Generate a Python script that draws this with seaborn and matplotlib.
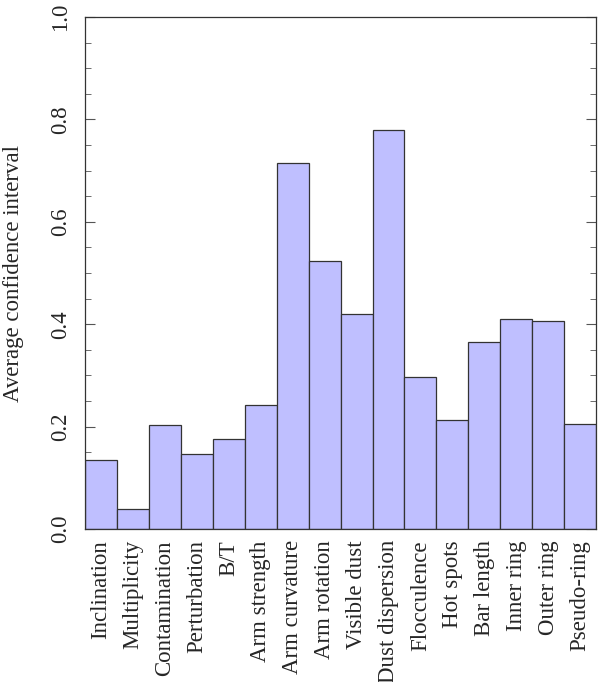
import pandas as pd
import matplotlib
matplotlib.use("Agg")
import matplotlib.pyplot as plt
import seaborn as sns
from matplotlib.ticker import MultipleLocator

# Valores
categories = ["Inclination", "Multiplicity", "Contamination", "Perturbation", "B/T",
              "Arm strength", "Arm curvature", "Arm rotation", "Visible dust",
              "Dust dispersion", "Flocculence", "Hot spots", "Bar length",
              "Inner ring", "Outer ring", "Pseudo-ring"]
values = [0.135, 0.039, 0.203, 0.146, 0.176, 0.242, 0.715, 0.523, 0.420,
          0.779, 0.297, 0.213, 0.366, 0.411, 0.406, 0.206]

data = pd.DataFrame({"feature": categories, "ci": values})

sns.set_style("ticks")
plt.rcParams["font.family"] = ["Liberation Serif", "DejaVu Serif"]

fig = plt.figure(figsize=(5.98, 6.82), dpi=100)
ax = fig.add_axes([0.142, 0.2243, 0.855, 0.7507])

sns.barplot(data=data, x="feature", y="ci", color="#bfbfff", saturation=1,
            width=1.0, edgecolor="#333333", linewidth=0.9, ax=ax)

ax.set_xlim(-0.5, len(categories) - 0.5)
ax.set_ylim(0, 1.0)
ax.yaxis.set_major_locator(MultipleLocator(0.2))
ax.yaxis.set_minor_locator(MultipleLocator(0.05))
ax.tick_params(axis="y", which="both", direction="in", left=True, right=True,
               labelsize=16.5, labelrotation=90)
ax.tick_params(axis="y", which="major", length=7, color="#555555", pad=10)
ax.tick_params(axis="y", which="minor", length=4, color="#555555")
ax.tick_params(axis="x", length=0, labelsize=16.5, pad=8)
ax.set_yticks([0, 0.2, 0.4, 0.6, 0.8, 1.0])
ax.set_yticklabels(["0.0", "0.2", "0.4", "0.6", "0.8", "1.0"], va="center")
ax.set_xticks(range(len(categories)))
ax.set_xticklabels(categories, rotation=90, ha="center", va="top")
ax.set_xlabel("")
ax.set_ylabel("Average confidence interval", fontsize=16.5, labelpad=19)
for s in ax.spines.values():
    s.set_color("#333333")
    s.set_linewidth(0.9)

fig.savefig("out.png", dpi=100)
